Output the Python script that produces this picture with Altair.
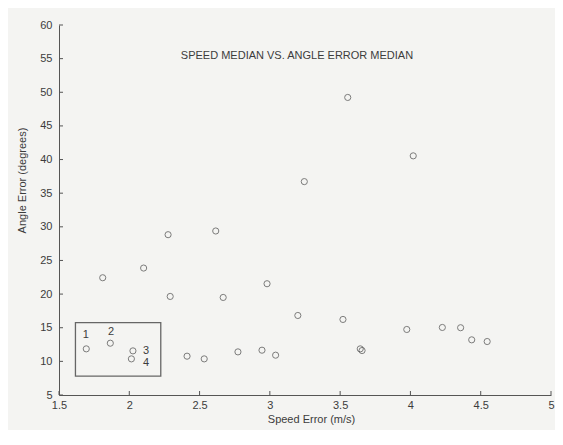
import altair as alt
import pandas as pd

# Data
speed_error = [3.554, 4.020, 3.245, 2.276, 2.615, 2.102, 1.811, 2.980, 2.291, 2.668,
               3.199, 3.520, 3.974, 4.227, 4.357, 4.436, 4.546, 3.643, 3.656,
               1.694, 1.865, 2.026, 2.015, 2.411, 2.533, 2.773, 2.944, 3.041]
angle_error = [49.23, 40.55, 36.72, 28.83, 29.38, 23.87, 22.43, 21.54, 19.65, 19.50,
               16.82, 16.23, 14.74, 15.04, 15.00, 13.20, 12.95, 11.86, 11.61,
               11.86, 12.70, 11.56, 10.37, 10.77, 10.37, 11.41, 11.66, 10.92]

label_text = ["1", "2", "3", "4"]
label_x = [1.691, 1.870, 2.120, 2.120]
label_y = [13.85, 14.34, 11.51, 9.73]

box_x = [1.617]
box_x2 = [2.224]
box_y = [15.75]
box_y2 = [7.82]

title_text = ["SPEED MEDIAN VS. ANGLE ERROR MEDIAN"]
title_x = [3.193]
title_y = [55.4]

x_ticks = [1.5, 2, 2.5, 3, 3.5, 4, 4.5, 5]
y_ticks = [5, 10, 15, 20, 25, 30, 35, 40, 45, 50, 55, 60]

W, H = 492, 370
INK = "#3c3c3c"
FONT = "Liberation Sans"

pts = pd.DataFrame({"x": speed_error, "y": angle_error})
labs = pd.DataFrame({"t": label_text, "x": label_x, "y": label_y})
box = pd.DataFrame({"x": box_x, "x2": box_x2, "y": box_y, "y2": box_y2})
ttl = pd.DataFrame({"t": title_text, "x": title_x, "y": title_y})
xt = pd.DataFrame({"v": x_ticks})
yt = pd.DataFrame({"v": y_ticks})

xscale = alt.Scale(domain=[1.5, 5], nice=False, zero=False)
yscale = alt.Scale(domain=[5, 60], nice=False, zero=False)

xaxis = alt.Axis(values=x_ticks, format="~g", ticks=False, tickSize=0, grid=False,
                 labelOverlap=False, labelFlush=False,
                 domainColor="#555555", domainWidth=1, labelColor=INK, labelFont=FONT,
                 labelFontSize=11, labelPadding=4, title="Speed Error (m/s)",
                 titleFont=FONT, titleFontSize=11, titleFontWeight="normal",
                 titleColor=INK, titleX=252, titleY=24, titleBaseline="middle")
yaxis = alt.Axis(values=y_ticks, format="d", ticks=False, tickSize=0, grid=False,
                 labelOverlap=False, labelFlush=False,
                 domainColor="#555555", domainWidth=1, labelColor=INK, labelFont=FONT,
                 labelFontSize=11, labelPadding=7, title="Angle Error (degrees)",
                 titleFont=FONT, titleFontSize=11, titleFontWeight="normal",
                 titleColor=INK, titleX=-37, titleY=155, titleBaseline="middle")


def X(field):
    return alt.X(field, scale=xscale, axis=xaxis)


def Y(field):
    return alt.Y(field, scale=yscale, axis=yaxis)


points = alt.Chart(pts).mark_point(shape="circle", filled=False, size=38,
                                   strokeWidth=1, color="#4a4a4a").encode(
    x=X("x:Q"), y=Y("y:Q"),
)

rect = alt.Chart(box).mark_rect(fill=None, filled=False, stroke="#666666",
                                strokeWidth=1.3).encode(
    x=X("x:Q"), x2="x2:Q", y=Y("y:Q"), y2="y2:Q",
)

labels = alt.Chart(labs).mark_text(font=FONT, fontSize=11, fill=INK,
                                   baseline="middle", align="center").encode(
    x=X("x:Q"), y=Y("y:Q"), text="t:N",
)

title = alt.Chart(ttl).mark_text(font=FONT, fontSize=11, fill=INK,
                                 baseline="middle", align="center").encode(
    x=X("x:Q"), y=Y("y:Q"), text="t:N",
)

xticks = alt.Chart(xt).mark_rule(color="#555555", strokeWidth=1).encode(
    x=X("v:Q"), y=alt.value(H), y2=alt.value(H - 4),
)
yticks = alt.Chart(yt).mark_rule(color="#555555", strokeWidth=1).encode(
    y=Y("v:Q"), x=alt.value(0), x2=alt.value(4),
)

chart = alt.layer(rect, xticks, yticks, points, labels, title).properties(
    width=W, height=H,
    padding={"left": 51, "top": 17, "right": 4, "bottom": 35},
    autosize=alt.AutoSizeParams(type="none"),
    background="#f4f4f2",
).configure_view(stroke=None).configure_axis(labelOverlap=False)

chart.save("out.html", embed_options={"renderer": "svg", "actions": False})
